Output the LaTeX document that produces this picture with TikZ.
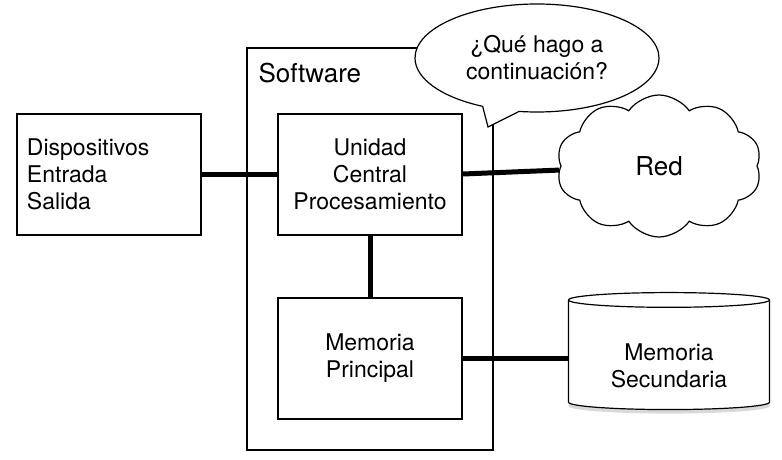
\documentclass[tikz,border=0pt]{standalone}
\usepackage{fontspec}
\setmainfont{TeX Gyre Heros}
\usetikzlibrary{shapes.geometric, shapes.symbols, shapes.callouts, shadows}

\begin{document}
\begin{tikzpicture}[x = 1pt, y = -1pt,
	box/.style = {draw, line width = 2pt, minimum width = 184pt, minimum height = 121pt, align = center},
	link/.style = {line width = 5pt},
	thin/.style = {draw, line width = 1.2pt},
	font = \fontsize{23}{27}\selectfont]

	\useasboundingbox (0, 0) rectangle (782, 460);

	% Software frame w/label
	
	\draw [line width = 2pt] (247, 48) rectangle (493, 450);
	\node (sw-label) [anchor = base west, font = \fontsize{26}{30}\selectfont] at (255, 82) {Software};
	
	% Boxes
	
	\node (io) [box, align = left, text width = 164pt, inner xsep = 10pt] at (109, 174) {Dispositivos\\Entrada\\Salida};
	\node (cpu) [box] at (370, 174) {Unidad\\Central\\Procesamiento};
	\node (mp) [box] at (370, 358) {Memoria\\Principal};
	
	% Network and secondary storage
	
	\node (red) [cloud, thin, cloud puffs = 10, cloud puff arc = 110, cloud ignores aspect, minimum width = 205pt, minimum height = 142pt, font = \fontsize{26}{30}\selectfont] at (659, 166) {Red};
	\node (sec) [cylinder, thin, shape border rotate = 90, aspect = 0.12, minimum width = 201pt, minimum height = 117pt, fill = white, align = center, drop shadow = {opacity = 0.3, shadow xshift = 0pt, shadow yshift = -4pt}] at (669, 356) {\rule{0pt}{36pt}Memoria\\Secundaria};
	
	% Bubble
	
	\node (bubble) [ellipse callout, thin, fill = white, callout absolute pointer = {(488, 127)}, callout pointer arc = 18, minimum width = 244pt, minimum height = 108pt, align = center] at (537, 58) {¿Qué hago a\\continuación?};
	
	% Links
	
	\draw [link] (io.east) -- (cpu.west);
	\draw [link] (cpu.east) -- (red);
	\draw [link] (cpu.south) -- (mp.north);
	\draw [link] (mp.east) -- (mp.east -| sec.west);
	
\end{tikzpicture}
\end{document}
